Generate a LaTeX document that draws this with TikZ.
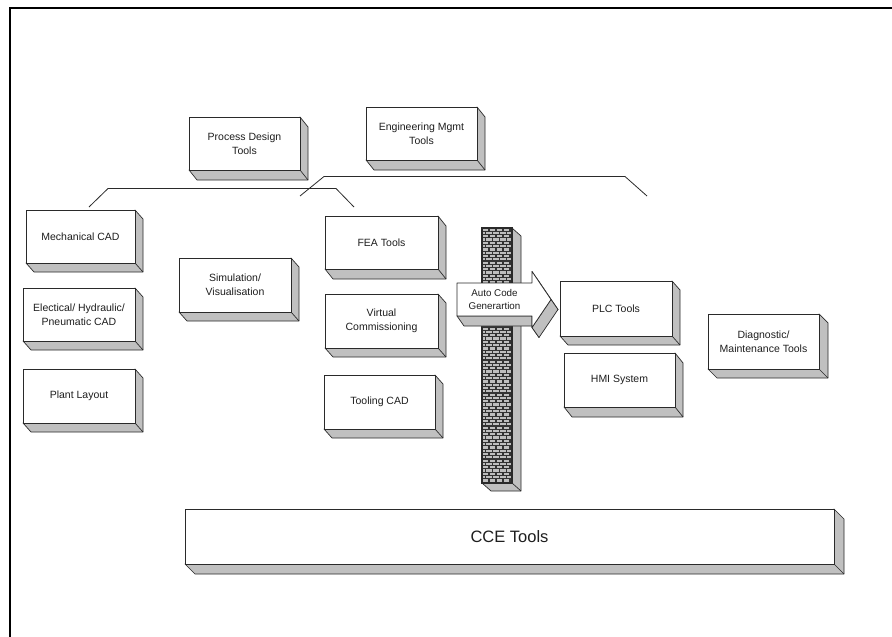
\documentclass[tikz,border=0pt]{standalone}
\usepackage{fontspec}
\setmainfont{Liberation Sans}
\usetikzlibrary{calc,backgrounds}
\definecolor{facegray}{HTML}{C0C0C0}
\definecolor{edge}{HTML}{2A2A2A}
\definecolor{brick}{HTML}{BEBEBE}
\definecolor{mortar}{HTML}{333333}
\definecolor{ink}{HTML}{1E1E1E}

\begin{document}
\begin{tikzpicture}[x=1pt,y=-1pt,
  tool/.style={draw=edge, line width=0.7pt, fill=white, inner sep=1pt, outer sep=0pt,
    align=center, text=ink, font=\fontsize{10.5}{14}\selectfont},
  bigtool/.style={tool, font=\fontsize{16.5}{19}\selectfont},
  side/.style={draw=edge, line width=0.7pt, fill=facegray, line join=round},
  rim/.style={draw=edge, line width=0.7pt},
  bracket/.style={draw=edge, line width=0.8pt},
  frame/.style={draw=black, line width=1.6pt},
  mortarline/.style={draw=mortar, line width=1.1pt},
  arrowlabel/.style={align=center, text=ink, inner sep=0pt, font=\fontsize{9.8}{13}\selectfont}]
\useasboundingbox (0,0) rectangle (892,637);

% page frame (only its top and left edges fall inside the page)
\coordinate (fTL) at (10,8);
\coordinate (fTR) at (892,8);
\coordinate (fBL) at (10,637);
\draw[frame] (fBL) -- (fTL) -- (fTR);

% tool boxes (front faces)
\node[tool, minimum width=111pt, minimum height=53pt] (proc)  at (244.5,143.5) {Process Design\\Tools};
\node[tool, minimum width=111pt, minimum height=53pt] (eng)   at (421.5,133.5) {Engineering Mgmt\\Tools};
\node[tool, minimum width=109pt, minimum height=53pt] (mech)  at (80.5,236.5)  {Mechanical CAD};
\node[tool, minimum width=112pt, minimum height=53pt] (elec)  at (79,314.5)    {Electical/ Hydraulic/\\Pneumatic CAD};
\node[tool, minimum width=112pt, minimum height=54pt] (plant) at (79,396)      {Plant Layout};
\node[tool, minimum width=112pt, minimum height=54pt] (sim)   at (235,285)     {Simulation/\\Visualisation};
\node[tool, minimum width=113pt, minimum height=53pt] (fea)   at (381.5,242.5) {FEA Tools};
\node[tool, minimum width=113pt, minimum height=54pt] (virt)  at (381.5,321)   {Virtual\\Commissioning};
\node[tool, minimum width=111pt, minimum height=54pt] (tcad)  at (379.5,402)   {Tooling CAD};
\node[tool, minimum width=112pt, minimum height=55pt] (plc)   at (616,308.5)   {PLC Tools};
\node[tool, minimum width=111pt, minimum height=54pt] (hmi)   at (619.5,380)   {HMI System};
\node[tool, minimum width=111pt, minimum height=55pt] (diag)  at (763.5,341.5) {Diagnostic/\\Maintenance Tools};
\node[bigtool, minimum width=649pt, minimum height=55pt] (cce) at (509.5,536.5) {CCE Tools};

% extruded right and bottom faces of every box
\begin{pgfonlayer}{background}
\foreach \n/\dx/\dy in {proc/8/10, eng/8/10, mech/8/9, elec/8/9, plant/8/9, sim/8/9,
                        fea/8/10, virt/8/9, tcad/8/9, plc/8/9, hmi/8/10, diag/9/9, cce/10/10} {
  \path[side] (\n.north east) -- ++(\dx,\dy) -- ($(\n.south east)+(\dx,\dy)$)
    -- ($(\n.south west)+(\dx,\dy)$) -- (\n.south west) -- (\n.south east) -- cycle;
  \draw[rim] (\n.south east) -- ++(\dx,\dy);
}
\end{pgfonlayer}

% grouping brackets
\coordinate (b1a) at (89,207);
\coordinate (b1b) at (108,188.5);
\coordinate (b1c) at (336,188.5);
\coordinate (b1d) at (354,207);
\draw[bracket] (b1a) -- (b1b) -- (b1c) -- (b1d);
\coordinate (b2a) at (300,196);
\coordinate (b2b) at (324,176.5);
\coordinate (b2c) at (625,176.5);
\coordinate (b2d) at (647,196);
\draw[bracket] (b2a) -- (b2b) -- (b2c) -- (b2d);

% brick wall
\coordinate (wTL) at (482,228);
\coordinate (wBR) at (512,483);
\path[side] (512,228) -- (521,236) -- (521,491) -- (491,491) -- (482,483) -- (512,483) -- cycle;
\draw[rim] (512,483) -- (521,491);
\begin{scope}
  \clip (wTL) rectangle (wBR);
  \fill[brick] (wTL) rectangle (wBR);
  \foreach \r in {0,...,78} {
    \pgfmathsetmacro\yy{228+\r*3.3}
    \pgfmathsetmacro\off{mod(\r,2)*3.5}
    \draw[mortarline] (482,\yy) -- (512,\yy);
    \foreach \c in {0,...,5} {
      \draw[mortarline] ({482+\off+\c*7},\yy) -- ++(0,3.3);
    }
  }
\end{scope}
\draw[rim, line width=1.2pt] (wTL) rectangle (wBR);

% code generation arrow (extruded)
\coordinate (aTL) at (457,283);
\coordinate (aBL) at (457,316);
\coordinate (aBR) at (532,316);
\coordinate (aTR) at (532,283);
\coordinate (hA)  at (532,271.5);
\coordinate (hT)  at (551,299.5);
\coordinate (hB)  at (532,327.5);
\path[side] (aBL) -- (aBR) -- ($(aBR)+(7,10)$) -- ($(aBL)+(7,10)$) -- cycle;
\path[side] (aBR) -- (hB) -- ($(hB)+(7,10)$) -- ($(aBR)+(7,10)$) -- cycle;
\path[side] (hA) -- (hT) -- ($(hT)+(7,10)$) -- ($(hA)+(7,10)$) -- cycle;
\path[side] (hT) -- (hB) -- ($(hB)+(7,10)$) -- ($(hT)+(7,10)$) -- cycle;
\path[draw=edge, line width=0.7pt, fill=white, line join=round]
  (aTL) -- (aTR) -- (hA) -- (hT) -- (hB) -- (aBR) -- (aBL) -- cycle;
\node[arrowlabel] (acg) at (494.5,299.5) {Auto Code\\Generartion};

\end{tikzpicture}
\end{document}
